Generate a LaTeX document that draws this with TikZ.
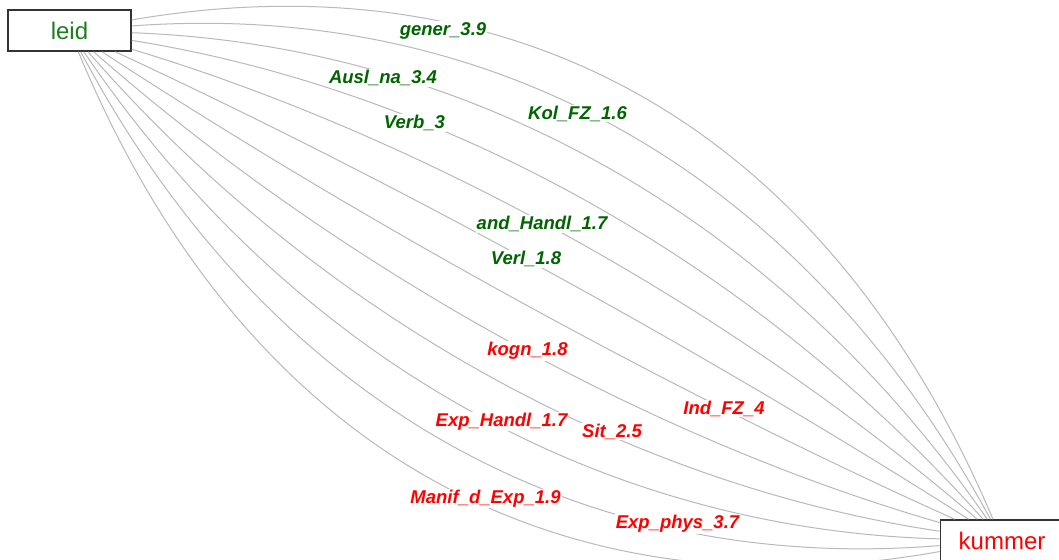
\documentclass[tikz,border=0pt]{standalone}
\usepackage{fontspec}
\setmainfont{Liberation Sans}
\usetikzlibrary{calc}
\definecolor{edgegray}{RGB}{185,185,185}
\definecolor{labgreen}{RGB}{0,100,0}
\definecolor{nodegreen}{RGB}{30,125,30}
\definecolor{labred}{RGB}{255,0,0}
\begin{document}
\begin{tikzpicture}[x=1pt,y=-1pt,
  box/.style={draw=black!80, line width=1.6pt, minimum width=123pt, minimum height=41pt, inner sep=0pt, font=\fontsize{24}{28}\selectfont},
  edge/.style={draw=edgegray, line width=1pt},
  lab/.style={fill=white, inner sep=1pt, font=\fontsize{18.5}{22}\selectfont\bfseries\itshape}]
\clip (0,0) rectangle (1059,559);
\fill[white] (0,0) rectangle (1059,559);
\node[box, text=nodegreen] (leid) at (69.5,30.5) {leid};
\node[box, text=labred] (kummer) at (1002,540.5) {kummer};
\foreach \k in {0,...,11} {
  \pgfmathsetmacro{\f}{4*(210-38.5*\k)/3}
  \pgfmathsetmacro{\ax}{380.33+0.4793*\f}
  \pgfmathsetmacro{\ay}{200.33-0.8777*\f}
  \pgfmathsetmacro{\bx}{691.17+0.4793*\f}
  \pgfmathsetmacro{\by}{370.17-0.8777*\f}
  \draw[edge] (leid) .. controls (\ax,\ay) and (\bx,\by) .. (kummer);
}
\node[lab, text=labgreen] (l0) at (443,30.5) {gener\_3.9};
\node[lab, text=labgreen] (l1) at (577.5,113.5) {Kol\_FZ\_1.6};
\node[lab, text=labgreen] (l2) at (383,78) {Ausl\_na\_3.4};
\node[lab, text=labgreen] (l3) at (414.5,123) {Verb\_3};
\node[lab, text=labgreen] (l4) at (542,224) {and\_Handl\_1.7};
\node[lab, text=labgreen] (l5) at (526,259) {Verl\_1.8};
\node[lab, text=labred] (l6) at (724,408.5) {Ind\_FZ\_4};
\node[lab, text=labred] (l7) at (527.5,351) {kogn\_1.8};
\node[lab, text=labred] (l8) at (612,431.5) {Sit\_2.5};
\node[lab, text=labred] (l9) at (501.5,421.5) {Exp\_Handl\_1.7};
\node[lab, text=labred] (l10) at (677.5,524) {Exp\_phys\_3.7};
\node[lab, text=labred] (l11) at (485.5,498.5) {Manif\_d\_Exp\_1.9};
\end{tikzpicture}
\end{document}
